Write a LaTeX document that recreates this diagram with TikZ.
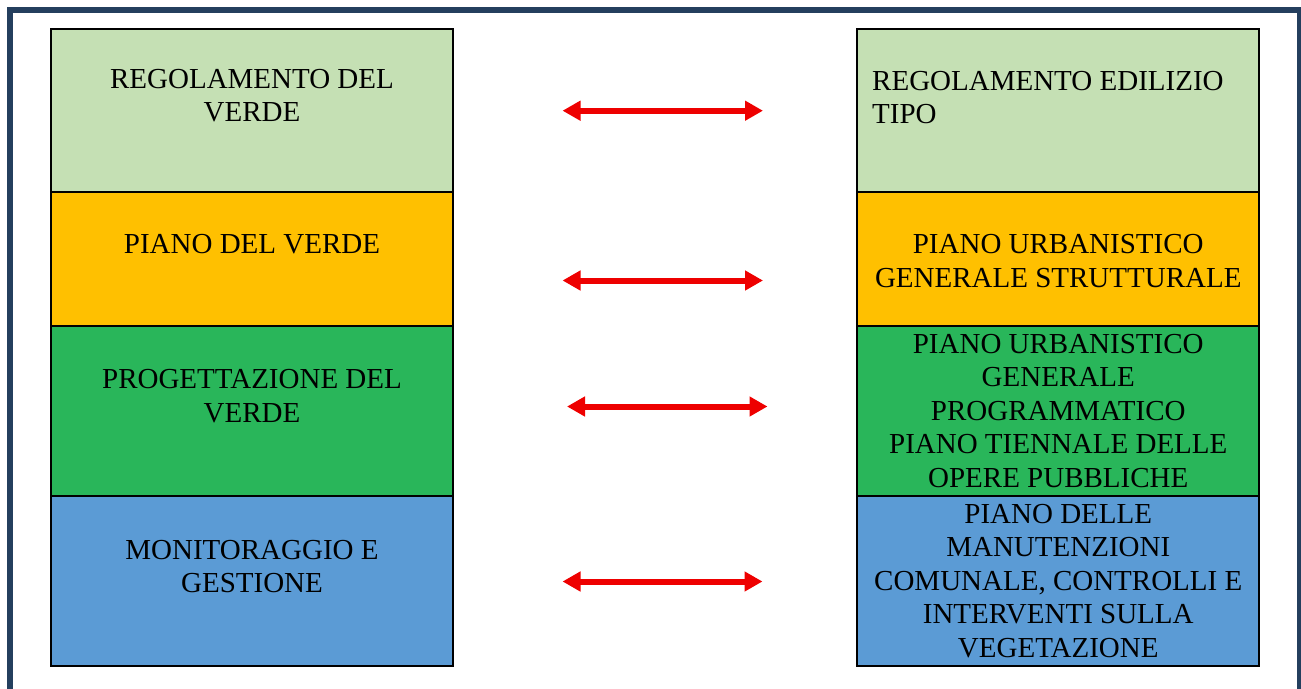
\documentclass[tikz,border=0pt]{standalone}
\usepackage{fontspec}
\setmainfont{Liberation Serif}
\usetikzlibrary{arrows.meta}
\definecolor{framecol}{HTML}{243F5E}
\definecolor{lightgreen}{HTML}{C5E0B4}
\definecolor{amber}{HTML}{FFC000}
\definecolor{midgreen}{HTML}{29B65A}
\definecolor{midblue}{HTML}{5B9BD5}
\definecolor{arrowred}{HTML}{EE0000}

\begin{document}
\begin{tikzpicture}[x=1pt, y=-1pt,
    box/.style={draw, line width=2pt, minimum width=402pt, inner sep=0pt},
    txt/.style={font=\fontsize{29pt}{33.5pt}\selectfont, inner sep=0pt, align=center},
    dblarrow/.style={arrowred, line width=6pt, {Triangle[length=18pt,width=19pt]}-{Triangle[length=18pt,width=19pt]}}]
    \useasboundingbox (0,0) rectangle (1301,688);
    \clip (0,0) rectangle (1301,688);
    \draw[framecol, line width=6pt](9.5,10) rectangle (1300,720);
    \node[box, fill=lightgreen, minimum height=163pt](lreg)at(252,110.5){};
    \node[box, fill=amber, minimum height=134pt](lpiano)at(252,259){};
    \node[box, fill=midgreen, minimum height=169.5pt](lprog)at(252,410.75){};
    \node[box, fill=midblue, minimum height=170pt](lmon)at(252,580.5){};
    \node[box, fill=lightgreen, minimum height=163pt](rreg)at(1058.25,110.5){};
    \node[box, fill=amber, minimum height=134pt](rpug)at(1058.25,259){};
    \node[box, fill=midgreen, minimum height=169.5pt](rpugp)at(1058.25,410.75){};
    \node[box, fill=midblue, minimum height=170pt](rmanut)at(1058.25,580.5){};
    \node[txt, anchor=north](tlreg)at(252,69){REGOLAMENTO DEL\\VERDE};
    \node[txt, anchor=north](tlpiano)at(252,234.3){PIANO DEL VERDE};
    \node[txt, anchor=north](tlprog)at(252,369.3){PROGETTAZIONE DEL\\VERDE};
    \node[txt, anchor=north](tlmon)at(252,540){MONITORAGGIO E\\GESTIONE};
    \node[txt, anchor=north west, align=left](trreg)at(872,71){REGOLAMENTO EDILIZIO\\TIPO};
    \node[txt, anchor=north](trpug)at(1058.25,234.3){PIANO URBANISTICO\\GENERALE STRUTTURALE};
    \node[txt, anchor=north](trpugp)at(1058.25,334){PIANO URBANISTICO\\GENERALE\\PROGRAMMATICO\\PIANO TIENNALE DELLE\\OPERE PUBBLICHE};
    \node[txt, anchor=north](trmanut)at(1058.25,504){PIANO DELLE\\MANUTENZIONI\\COMUNALE, CONTROLLI E\\INTERVENTI SULLA\\VEGETAZIONE};
    \coordinate(a1l)at(562.5,110.7);
    \coordinate(a1r)at(763,110.7);
    \coordinate(a2l)at(562.5,280.5);
    \coordinate(a2r)at(763,280.5);
    \coordinate(a3l)at(567,406.5);
    \coordinate(a3r)at(767.5,406.5);
    \coordinate(a4l)at(562.5,581.5);
    \coordinate(a4r)at(762.5,581.5);
    \draw[dblarrow](a1l)--(a1r);
    \draw[dblarrow](a2l)--(a2r);
    \draw[dblarrow](a3l)--(a3r);
    \draw[dblarrow](a4l)--(a4r);
\end{tikzpicture}
\end{document}
